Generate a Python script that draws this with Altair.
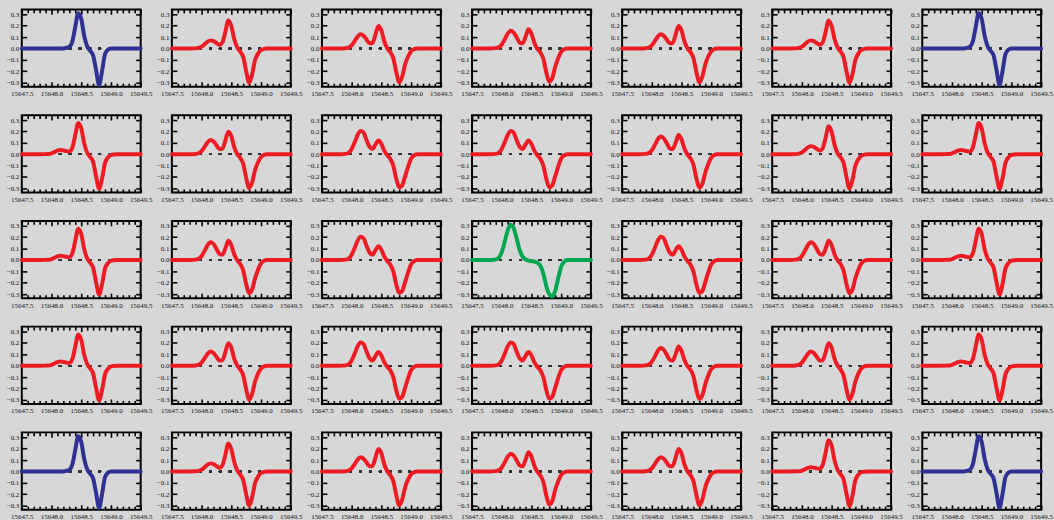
import altair as alt
import pandas as pd

# Wavelength samples (Å) shared by every Stokes V profile
WAVELENGTH = [15647.5, 15647.8, 15647.9, 15647.95, 15648.0, 15648.05, 15648.1,
              15648.15, 15648.2, 15648.25, 15648.3, 15648.35, 15648.4, 15648.45,
              15648.5, 15648.55, 15648.6, 15648.65, 15648.7, 15648.75, 15648.8,
              15648.85, 15648.9, 15648.95, 15649.0, 15649.05, 15649.1, 15649.15,
              15649.3, 15649.5]

# Pure components
V_BLUE = [0, 0, 0, 0, 0, 0, 0, 0, 0, 0.005, 0.015, 0.06, 0.19, 0.31, 0.26,
          0.11, 0.02, -0.02, -0.06, -0.19, -0.32, -0.20, -0.05, -0.01,
          0, 0, 0, 0, 0, 0]
V_GREEN = [0, 0, 0.005, 0.02, 0.07, 0.16, 0.26, 0.31, 0.28, 0.19, 0.09, 0.03,
           0.005, -0.005, -0.01, -0.015, -0.025, -0.05, -0.12, -0.23, -0.30,
           -0.32, -0.27, -0.16, -0.06, -0.015, 0, 0, 0, 0]

# Mixed profiles, weakest to strongest second component
V_R1 = [0, 0, 0.001, 0.002, 0.008, 0.019, 0.031, 0.037, 0.034, 0.027, 0.024,
        0.056, 0.168, 0.275, 0.228, 0.095, 0.015, -0.024, -0.067, -0.195,
        -0.302, -0.214, -0.076, -0.028, -0.007, -0.002, 0, 0, 0, 0]
V_R2 = [0, 0, 0.001, 0.005, 0.016, 0.037, 0.060, 0.071, 0.064, 0.048, 0.032,
        0.053, 0.147, 0.245, 0.198, 0.081, 0.010, -0.027, -0.074, -0.199,
        -0.300, -0.228, -0.101, -0.045, -0.014, -0.003, 0, 0, 0, 0]
V_R3 = [0, 0, 0.002, 0.008, 0.028, 0.064, 0.104, 0.124, 0.112, 0.079, 0.045,
        0.048, 0.120, 0.198, 0.160, 0.060, 0.002, -0.032, -0.084, -0.206,
        -0.298, -0.248, -0.138, -0.070, -0.024, -0.006, 0, 0, 0, 0]
V_R4 = [0, 0, 0.003, 0.010, 0.035, 0.080, 0.130, 0.155, 0.140, 0.098, 0.053,
        0.045, 0.100, 0.168, 0.130, 0.048, -0.003, -0.035, -0.090, -0.210,
        -0.292, -0.260, -0.160, -0.085, -0.030, -0.008, 0, 0, 0, 0]
V_R5 = [0, 0, 0.003, 0.013, 0.046, 0.104, 0.169, 0.205, 0.190, 0.125, 0.066,
        0.045, 0.085, 0.120, 0.090, 0.029, -0.009, -0.040, -0.099, -0.216,
        -0.290, -0.272, -0.193, -0.108, -0.039, -0.010, 0, 0, 0, 0]

PROFILES = {"B": V_BLUE, "G": V_GREEN, "R1": V_R1, "R2": V_R2,
            "R3": V_R3, "R4": V_R4, "R5": V_R5}
COLORS = {"B": "#2E3192", "G": "#00A651"}
RED = "#ED1C24"

# Profile shown in each cell of the 5 x 7 grid
LAYOUT = [
    ["B", "R2", "R3", "R4", "R3", "R2", "B"],
    ["R1", "R3", "R5", "R5", "R4", "R2", "R1"],
    ["R1", "R4", "R5", "G", "R5", "R4", "R1"],
    ["R1", "R3", "R5", "R5", "R4", "R3", "R1"],
    ["B", "R2", "R3", "R4", "R3", "R1", "B"],
]

X_DOMAIN = [15647.5, 15649.5]
Y_DOMAIN = [-0.335, 0.343]
X_MAJOR = [15647.5, 15648.0, 15648.5, 15649.0, 15649.5]
X_MINOR = [15647.6, 15647.7, 15647.8, 15647.9, 15648.1, 15648.2, 15648.3,
           15648.4, 15648.6, 15648.7, 15648.8, 15648.9, 15649.1, 15649.2,
           15649.3, 15649.4]
Y_MAJOR = [-0.3, -0.2, -0.1, 0.0, 0.1, 0.2, 0.3]

FONT = "Liberation Serif"
PANEL_W, PANEL_H = 120, 78


def axis(orient, values, size, labels=False, pad=3):
    """Inward-pointing ticks: the axis is pulled inside the frame by its tick length."""
    kw = dict(orient=orient, values=values, tickSize=size, offset=-size,
              domain=False, grid=False, labels=labels, title=None,
              tickColor="black", tickWidth=1.6)
    if labels:
        kw.update(format=".1f", labelFont=FONT, labelFontSize=7,
                  labelColor="#111111", labelPadding=pad,
                  labelFlush=False, labelOverlap=False)
    return alt.Axis(**kw)


def panel(kind):
    df = pd.DataFrame({"wl": WAVELENGTH, "v": PROFILES[kind]})
    xs = alt.Scale(domain=X_DOMAIN, nice=False, zero=False)
    ys = alt.Scale(domain=Y_DOMAIN, nice=False, zero=False)
    base = alt.Chart(df)
    carrier = base.mark_point(opacity=0)

    frame_lb = carrier.encode(
        x=alt.X("wl:Q", scale=xs, axis=axis("bottom", X_MAJOR, 5, True, 3)),
        y=alt.Y("v:Q", scale=ys, axis=axis("left", Y_MAJOR, 5, True, 3)),
    )
    frame_tr = carrier.encode(
        x=alt.X("wl:Q", scale=xs, axis=axis("top", X_MAJOR, 5)),
        y=alt.Y("v:Q", scale=ys, axis=axis("right", Y_MAJOR, 5)),
    )
    minor_b = carrier.encode(
        x=alt.X("wl:Q", scale=xs, axis=axis("bottom", X_MINOR, 3.5)),
        y=alt.Y("v:Q", scale=ys, axis=None),
    )
    minor_t = carrier.encode(
        x=alt.X("wl:Q", scale=xs, axis=axis("top", X_MINOR, 3.5)),
        y=alt.Y("v:Q", scale=ys, axis=None),
    )
    zero = base.mark_rule(
        strokeDash=[2.5, 7.5], strokeWidth=1.6, color="#333333"
    ).encode(y=alt.datum(0, scale=ys, axis=None))
    curve = base.mark_line(
        strokeWidth=4, strokeCap="round", strokeJoin="round",
        interpolate="monotone", color=COLORS.get(kind, RED),
    ).encode(
        x=alt.X("wl:Q", scale=xs, axis=None),
        y=alt.Y("v:Q", scale=ys, axis=None),
    )

    return (
        alt.layer(frame_lb, frame_tr, minor_b, minor_t, zero, curve)
        .resolve_axis(x="independent", y="independent")
        .properties(width=PANEL_W, height=PANEL_H)
    )


panels = [panel(k) for row in LAYOUT for k in row]

chart = (
    alt.concat(*panels, columns=7,
               spacing={"row": 28.75, "column": 31.5}, bounds="flush")
    .properties(
        background="#d7d7d7",
        padding={"left": 5, "top": 5, "right": 0, "bottom": 0},
    )
    .configure_view(stroke="black", strokeWidth=2, fill=None)
)

chart.save("out.html", embed_options={"renderer": "svg", "actions": False})
